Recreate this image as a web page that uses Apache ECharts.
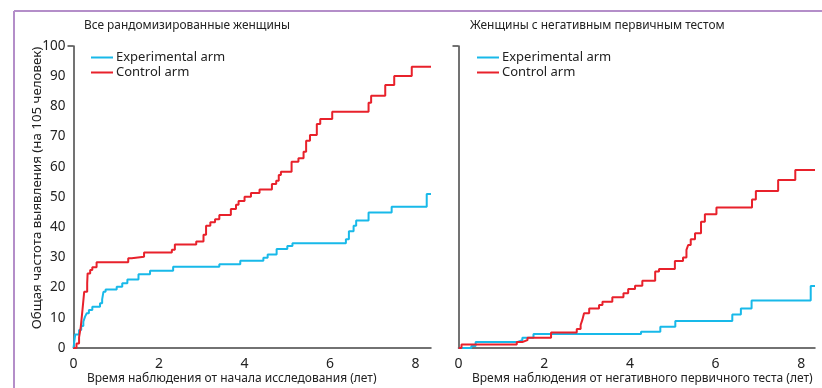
<!DOCTYPE html>
<html><head><meta charset="utf-8">
<script src="https://cdn.jsdelivr.net/npm/echarts@6/dist/echarts.min.js"></script>
<style>html,body{margin:0;padding:0;background:#fff}#c{width:822px;height:388px}</style>
</head><body><div id="c"></div>
<script>
// ---- data ----
const titles = ['Все рандомизированные женщины', 'Женщины с негативным первичным тестом'];
const xNames = ['Время наблюдения от начала исследования (лет)', 'Время наблюдения от негативного первичного теста (лет)'];
const yName = 'Общая частота выявления (на 105 человек)';
const seriesNames = ['Experimental arm', 'Control arm'];
const xTicks = [0, 2, 4, 6, 8];
const yTicks = [0, 10, 20, 30, 40, 50, 60, 70, 80, 90, 100];

const allExperimental = [[0,0],[0.04,4.5],[0.13,6],[0.18,7.3],[0.23,8.7],[0.27,10.4],[0.31,11.5],[0.36,12.6],[0.44,13.7],[0.62,14.8],[0.67,16.1],[0.7,18.6],[0.75,19.4],[1.01,20.3],[1.14,21.4],[1.26,22.7],[1.52,24.4],[1.79,25.6],[2.33,26.9],[3.41,27.7],[3.9,28.9],[4.44,29.9],[4.54,31],[4.75,32.8],[5.0,33.8],[5.12,34.7],[6.37,36],[6.44,38.7],[6.55,40.5],[6.61,42.2],[6.9,44.9],[7.44,46.8],[8.26,51],[8.36,51]];
const allControl = [[0,0],[0.07,1.5],[0.13,3.5],[0.17,7],[0.21,12.6],[0.25,18.6],[0.32,21.4],[0.33,24.7],[0.39,25.8],[0.44,26.7],[0.54,28.4],[1.28,29.7],[1.36,30.2],[1.65,31.6],[2.3,32.5],[2.37,34.3],[2.87,35.3],[3.04,37.5],[3.1,40.5],[3.2,41.6],[3.31,42.6],[3.41,44],[3.68,46],[3.8,47.4],[3.86,48.7],[4.0,50.1],[4.15,51.3],[4.35,52.5],[4.64,54.3],[4.74,55.4],[4.8,57.3],[4.85,58.4],[5.1,61.7],[5.26,62.8],[5.38,65],[5.44,68.6],[5.53,70.5],[5.69,74.2],[5.77,75.8],[6.05,78.2],[6.9,81.2],[6.96,83.5],[7.29,87.1],[7.5,90.1],[7.91,93.1],[8.36,93.1]];
const negExperimental = [[0,0],[0.3,0.7],[0.4,2],[1.38,2.6],[1.49,3.4],[1.75,4.6],[4.26,5.4],[4.71,7],[5.06,8.9],[6.39,11.1],[6.59,13.1],[6.84,15.7],[8.22,20.5],[8.32,20.5]];
const negControl = [[0,0],[0.07,1.2],[1.36,2],[1.49,2.6],[1.61,3.4],[2.16,5.1],[2.76,6.3],[2.85,7.6],[2.89,9.3],[2.93,11.5],[3.05,13.1],[3.28,14.2],[3.36,15.3],[3.59,16.8],[3.85,18.1],[3.96,19.5],[4.12,20.6],[4.29,22.3],[4.59,25.3],[4.68,26.2],[5.05,28.8],[5.24,30],[5.32,32.5],[5.36,34.1],[5.42,36],[5.52,38],[5.66,41.8],[5.75,44.3],[6.02,46.5],[6.85,49.2],[6.94,52],[7.46,55.6],[7.86,58.9],[8.32,58.9]];
const xMax = [8.36, 8.32];

// ---- chart ----
const FONT = 'Noto Sans';
const BLUE = '#18b9e9', RED = '#e8212b', AX = '#444', TXT = '#222';
const chart = echarts.init(document.getElementById('c'), null, {renderer: 'canvas'});
function xAxis(i) {
  return {
    gridIndex: i, type: 'value', min: 0, max: xMax[i],
    axisLine: {lineStyle: {color: AX, width: 1.5}},
    axisTick: {show: false},
    axisLabel: {customValues: xTicks, fontFamily: FONT, fontSize: 14, color: TXT, margin: 9},
    splitLine: {show: false}
  };
}
function yAxis(i) {
  return {
    gridIndex: i, type: 'value', min: 0, max: 100, interval: 10,
    axisLine: {show: true, lineStyle: {color: AX, width: 1.5}},
    axisTick: {show: true, customValues: [100], length: 6, lineStyle: {color: AX, width: 1.5}},
    axisLabel: {show: i === 0, customValues: yTicks, fontFamily: FONT, fontSize: 13.5, color: TXT, margin: 8},
    splitLine: {show: false}
  };
}
function line(name, data, color, i) {
  return {
    name, type: 'line', xAxisIndex: i, yAxisIndex: i, data, step: 'end',
    showSymbol: false, symbol: 'none', lineStyle: {color, width: 2}, itemStyle: {color},
    animation: false
  };
}
const tStyle = (fs) => ({fontFamily: FONT, fontSize: fs, fontWeight: 'normal', color: TXT});
const legendOpt = (left) => ({
  data: seriesNames, left, top: 51, padding: 0, orient: 'vertical', icon: 'rect',
  itemWidth: 22, itemHeight: 2, itemGap: 2,
  textStyle: {fontFamily: FONT, fontSize: 13, color: TXT, padding: [0, 0, 0, -2]}
});
chart.setOption({
  backgroundColor: '#fff',
  animation: false,
  title: [
    {text: titles[0], left: 84, top: 20, padding: 0, textStyle: tStyle(11.9)},
    {text: titles[1], left: 470, top: 20, padding: 0, textStyle: tStyle(11.9)},
    {text: xNames[0], left: 87, top: 373, padding: 0, textStyle: tStyle(12)},
    {text: xNames[1], left: 472, top: 373, padding: 0, textStyle: tStyle(12)}
  ],
  legend: [legendOpt(91), legendOpt(477)],
  grid: [
    {left: 73.5, top: 46, width: 357.5, height: 302},
    {left: 458.5, top: 46, width: 356.5, height: 302}
  ],
  xAxis: [xAxis(0), xAxis(1)],
  yAxis: [yAxis(0), yAxis(1)],
  series: [
    line(seriesNames[0], allExperimental, BLUE, 0),
    line(seriesNames[1], allControl, RED, 0),
    line(seriesNames[0], negExperimental, BLUE, 1),
    line(seriesNames[1], negControl, RED, 1)
  ],
  graphic: [
    {type: 'line', shape: {x1: 14, y1: 11, x2: 822, y2: 11}, style: {stroke: '#b48ec9', lineWidth: 2}, silent: true},
    {type: 'line', shape: {x1: 14, y1: 11, x2: 14, y2: 388}, style: {stroke: '#b48ec9', lineWidth: 2}, silent: true},
    {type: 'text', x: 37, y: 188, rotation: Math.PI / 2, silent: true,
     style: {text: yName, fontFamily: FONT, fontSize: 13.3, fill: TXT, align: 'center', verticalAlign: 'middle'}}
  ]
});
</script></body></html>
